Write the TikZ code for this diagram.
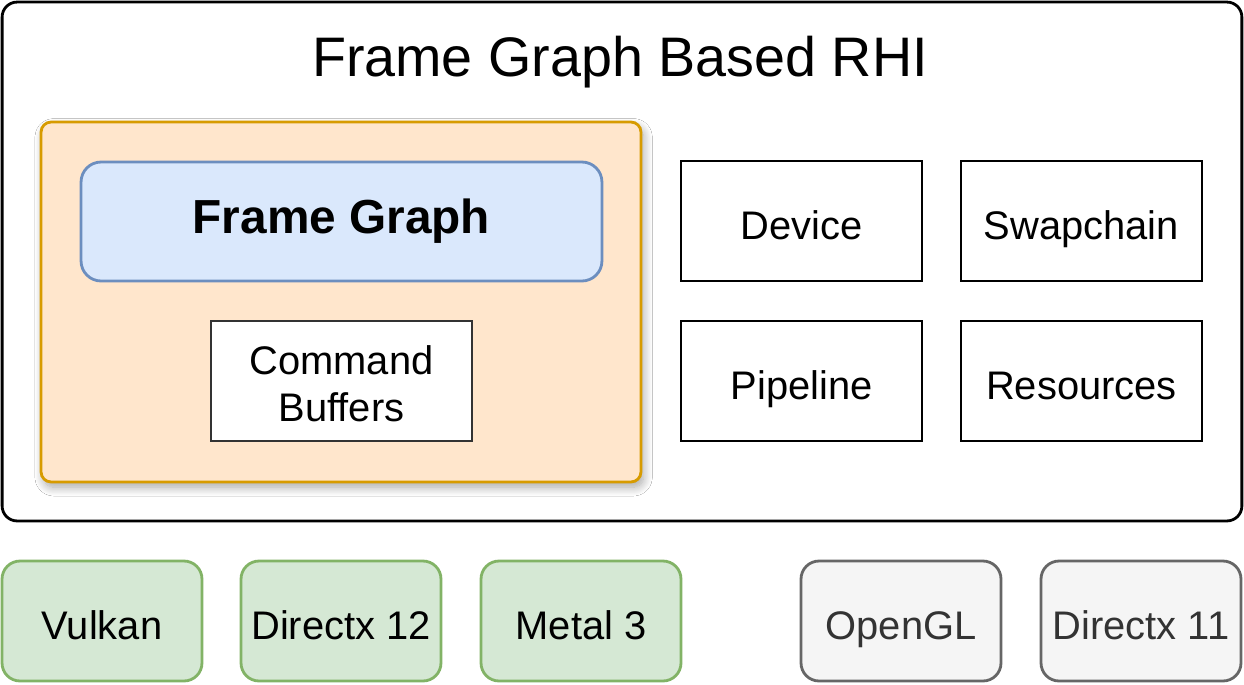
\documentclass[tikz,border=0pt]{standalone}
\usepackage{fontspec}
\setmainfont{Liberation Sans}
\usetikzlibrary{shadows.blur}

\definecolor{fgfill}{HTML}{DAE8FC}
\definecolor{fgline}{HTML}{6C8EBF}
\definecolor{orfill}{HTML}{FFE6CC}
\definecolor{orline}{HTML}{D79B00}
\definecolor{grfill}{HTML}{D5E8D4}
\definecolor{grline}{HTML}{82B366}
\definecolor{gyfill}{HTML}{F5F5F5}
\definecolor{gyline}{HTML}{666666}
\definecolor{gytext}{HTML}{333333}

\tikzset{
	lbl/.style={font=\fontsize{22.7}{26.8}\selectfont, align=center,
		text height=22pt, text depth=0.4pt},
	part/.style={lbl, draw=black, line width=1.6pt, fill=white,
		minimum width=4.82cm, minimum height=2.4cm, inner sep=0pt},
	api/.style={lbl, rounded corners=0.36cm, line width=1.6pt,
		minimum width=4cm, minimum height=2.4cm, inner sep=0pt},
	newapi/.style={api, draw=grline, fill=grfill},
	oldapi/.style={api, draw=gyline, fill=gyfill, text=gytext},
}

\begin{document}
\begin{tikzpicture}[x=0.02cm, y=-0.02cm]
	\useasboundingbox (0,0) rectangle (1244,684);
	% Outer RHI box
	\node[draw=black, line width=1.6pt, rounded corners=0.3cm, fill=white,
		minimum width=24.8cm, minimum height=10.38cm, inner sep=0pt]
		(rhi) at (622,261.5) {};
	\node[font=\fontsize{31.7}{36}\selectfont] (title) at (620,62) {Frame Graph Based RHI};
	% Frame graph group
	\node[draw=orline, fill=orfill, line width=1.6pt, rounded corners=0.2cm,
		minimum width=12cm, minimum height=7.2cm, inner sep=0pt,
		blur shadow={shadow xshift=1.5pt, shadow yshift=-3pt, shadow blur radius=5pt,
			shadow blur steps=12, shadow opacity=35}]
		(group) at (341,302) {};
	\node[draw=fgline, fill=fgfill, line width=1.6pt, rounded corners=0.4cm,
		minimum width=10.42cm, minimum height=2.38cm, inner sep=0pt,
		font=\fontsize{27.2}{32}\selectfont\bfseries]
		(fg) at (341.5,221.5) {Frame Graph};
	\node[part, draw=gytext, minimum width=5.22cm, text height=47pt, text depth=0.5pt]
		(cmd) at (341.5,381) {Command\\Buffers};
	% RHI parts
	\node[part] (device) at (801.5,221) {Device};
	\node[part] (swap) at (1081.5,221) {Swapchain};
	\node[part] (pipe) at (801.5,381) {Pipeline};
	\node[part] (res) at (1081.5,381) {Resources};
	% Backends
	\node[newapi] (vk) at (102,621) {Vulkan};
	\node[newapi] (dx12) at (341,621) {Directx 12};
	\node[newapi] (mtl) at (581,621) {Metal 3};
	\node[oldapi] (gl) at (901,621) {OpenGL};
	\node[oldapi] (dx11) at (1141,621) {Directx 11};
\end{tikzpicture}
\end{document}
